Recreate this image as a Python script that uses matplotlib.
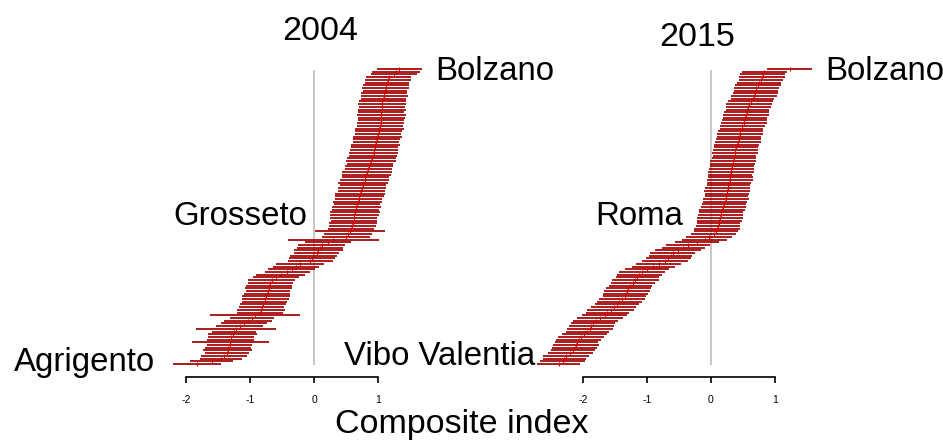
import numpy as np
import matplotlib
matplotlib.use('Agg')
import matplotlib.pyplot as plt

plt.rcParams['font.family'] = ['Liberation Sans', 'DejaVu Sans']
plt.rcParams['axes.unicode_minus'] = False

# composite index by province, sorted from lowest (bottom) to highest (top)
est_2004 = [-1.83, -1.60, -1.45, -1.40, -1.36, -1.35, -1.34, -1.32, -1.31, -1.30,
            -1.29, -1.27, -1.25, -1.22, -1.16, -1.10, -1.03, -0.97, -0.92, -0.85,
            -0.83, -0.82, -0.80, -0.77, -0.76, -0.75, -0.74, -0.72, -0.71, -0.70,
            -0.68, -0.66, -0.60, -0.52, -0.42, -0.35, -0.28, -0.22, -0.06, -0.03,
            -0.01, 0.04, 0.07, 0.10, 0.12, 0.22, 0.30, 0.50, 0.53, 0.56,
            0.58, 0.60, 0.61, 0.62, 0.62, 0.63, 0.64, 0.65, 0.66, 0.67,
            0.68, 0.70, 0.71, 0.72, 0.74, 0.75, 0.76, 0.77, 0.79, 0.80,
            0.82, 0.83, 0.85, 0.86, 0.88, 0.89, 0.90, 0.92, 0.93, 0.94,
            0.95, 0.96, 0.97, 0.98, 0.99, 1.00, 1.01, 1.02, 1.03, 1.04,
            1.04, 1.05, 1.05, 1.05, 1.06, 1.06, 1.06, 1.07, 1.08, 1.10,
            1.10, 1.11, 1.12, 1.13, 1.14, 1.16, 1.17, 1.25, 1.28, 1.33]
hw_2004 = [0.37, 0.34, 0.33, 0.36, 0.35, 0.38, 0.36, 0.35, 0.60, 0.37,
           0.36, 0.38, 0.35, 0.63, 0.37, 0.36, 0.38, 0.35, 0.70, 0.36,
           0.37, 0.35, 0.36, 0.35, 0.37, 0.38, 0.36, 0.35, 0.37, 0.36,
           0.35, 0.37, 0.36, 0.38, 0.35, 0.37, 0.36, 0.38, 0.35, 0.36,
           0.37, 0.35, 0.38, 0.36, 0.37, 0.36, 0.71, 0.37, 0.38, 0.55,
           0.36, 0.37, 0.38, 0.36, 0.37, 0.38, 0.39, 0.37, 0.38, 0.36,
           0.39, 0.37, 0.38, 0.39, 0.37, 0.38, 0.36, 0.39, 0.38, 0.37,
           0.38, 0.39, 0.37, 0.38, 0.36, 0.39, 0.38, 0.37, 0.39, 0.38,
           0.37, 0.38, 0.36, 0.37, 0.38, 0.36, 0.37, 0.38, 0.36, 0.37,
           0.36, 0.37, 0.38, 0.36, 0.37, 0.36, 0.37, 0.36, 0.35, 0.37,
           0.36, 0.35, 0.37, 0.36, 0.35, 0.36, 0.35, 0.36, 0.37, 0.35]

est_2015 = [-2.38, -2.32, -2.29, -2.26, -2.20, -2.16, -2.13, -2.11, -2.10, -2.07,
            -2.03, -1.98, -1.93, -1.89, -1.87, -1.84, -1.80, -1.73, -1.66, -1.62,
            -1.57, -1.52, -1.47, -1.43, -1.39, -1.35, -1.33, -1.31, -1.29, -1.26,
            -1.22, -1.18, -1.15, -1.12, -1.08, -1.00, -0.90, -0.82, -0.72, -0.67,
            -0.63, -0.60, -0.52, -0.43, -0.36, -0.22, -0.10, -0.03, 0.04, 0.08,
            0.10, 0.11, 0.12, 0.13, 0.14, 0.15, 0.16, 0.17, 0.19, 0.20,
            0.22, 0.23, 0.24, 0.25, 0.25, 0.26, 0.27, 0.28, 0.29, 0.30,
            0.30, 0.31, 0.32, 0.33, 0.34, 0.35, 0.36, 0.37, 0.38, 0.38,
            0.39, 0.40, 0.42, 0.43, 0.44, 0.45, 0.46, 0.48, 0.49, 0.51,
            0.52, 0.53, 0.54, 0.56, 0.57, 0.58, 0.60, 0.62, 0.65, 0.67,
            0.69, 0.70, 0.71, 0.73, 0.75, 0.78, 0.79, 0.81, 0.83, 1.23]
hw_2015 = [0.34, 0.35, 0.34, 0.36, 0.35, 0.34, 0.35, 0.36, 0.34, 0.35,
           0.36, 0.35, 0.34, 0.36, 0.35, 0.34, 0.35, 0.36, 0.35, 0.34,
           0.36, 0.35, 0.34, 0.35, 0.36, 0.34, 0.35, 0.36, 0.35, 0.34,
           0.35, 0.36, 0.34, 0.35, 0.36, 0.35, 0.34, 0.35, 0.36, 0.35,
           0.34, 0.35, 0.36, 0.34, 0.35, 0.34, 0.35, 0.36, 0.35, 0.34,
           0.36, 0.35, 0.34, 0.35, 0.36, 0.35, 0.34, 0.36, 0.35, 0.34,
           0.35, 0.36, 0.34, 0.35, 0.36, 0.35, 0.34, 0.35, 0.36, 0.35,
           0.34, 0.36, 0.35, 0.34, 0.35, 0.36, 0.35, 0.34, 0.36, 0.35,
           0.34, 0.35, 0.36, 0.35, 0.34, 0.36, 0.35, 0.34, 0.35, 0.36,
           0.35, 0.34, 0.36, 0.35, 0.34, 0.35, 0.36, 0.35, 0.34, 0.36,
           0.35, 0.34, 0.35, 0.36, 0.35, 0.34, 0.36, 0.35, 0.35, 0.35]

# (name, row, side) for the provinces named next to the bars
labels_2004 = [('Bolzano', 107.9, 'left'), ('Grosseto', 54.5, 'right'), ('Agrigento', 0.7, 'right')]
labels_2015 = [('Bolzano', 107.9, 'left'), ('Roma', 54.5, 'right'), ('Vibo Valentia', 2.8, 'right')]
label_x_2004 = [1.89, -0.11, -2.48]
label_x_2015 = [1.78, -0.44, -2.75]

ticks = [-2, -1, 0, 1]
dark_red = '#a20000'
bright_red = '#d40000'

fig = plt.figure(figsize=(9.43, 4.41), dpi=100)
W, H = 943.0, 441.0
ax1 = fig.add_axes([0, 0, 470 / W, 1])
ax2 = fig.add_axes([470 / W, 0, 473 / W, 1])


def caterpillar(ax, est, hw, labels, label_x, xlim):
    est = np.array(est)
    hw = np.array(hw)
    rows = np.arange(len(est))
    ax.vlines(0, -0.4, 108.6, color='#c4c4c4', lw=1.3, zorder=1)
    ax.hlines(rows, est - hw, est + hw, color=dark_red, lw=1.25, zorder=2)
    ax.plot(est, rows, '|', color=bright_red, ms=2.2, mew=0.8, zorder=3)
    for (name, row, side), x in zip(labels, label_x):
        ax.text(x, row, name, ha=side, va='center', fontsize=23.8, color='black')
    ax.set_xlim(*xlim)
    ax.set_ylim(-28.45, 134.5)
    ax.patch.set_visible(False)
    for s in ['top', 'right', 'left']:
        ax.spines[s].set_visible(False)
    ax.spines['bottom'].set_position(('data', -4.7))
    ax.spines['bottom'].set_bounds(-2, 1)
    ax.spines['bottom'].set_linewidth(1.2)
    ax.set_xticks(ticks)
    ax.set_xticklabels([str(t) for t in ticks])
    ax.tick_params(axis='x', direction='out', length=4.3, width=1.2, pad=9,
                   labelsize=7.5, colors='black')
    ax.set_yticks([])


caterpillar(ax1, est_2004, hw_2004, labels_2004, label_x_2004, (-314 / 64, 156 / 64))
caterpillar(ax2, est_2015, hw_2015, labels_2015, label_x_2015, (-241 / 64, 232 / 64))

fig.text(320 / W, 1 - 32 / H, '2004', ha='center', va='center', fontsize=24.5)
fig.text(697 / W, 1 - 37 / H, '2015', ha='center', va='center', fontsize=24.5)
fig.text(462 / W, 1 - 425 / H, 'Composite index', ha='center', va='center', fontsize=24.5)

fig.savefig('out.png', dpi=100)
